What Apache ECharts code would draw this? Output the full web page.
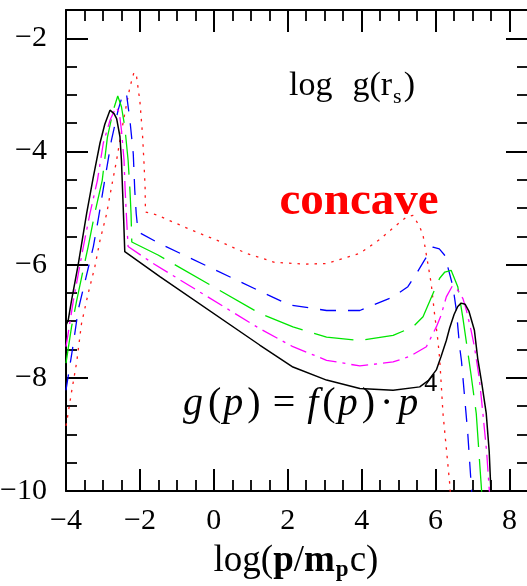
<!DOCTYPE html>
<html>
<head>
<meta charset="utf-8">
<script src="https://cdn.jsdelivr.net/npm/echarts@6/dist/echarts.min.js"></script>
<style>
  html, body { margin: 0; padding: 0; background: #fff; }
  #chart { width: 527px; height: 586px; }
</style>
</head>
<body>
<div id="chart"></div>
<script>
// curves: [log p, log g]
const blackLine = [[-4,-7.07],[-3.94,-6.98],[-3.85,-6.63],[-3.67,-6.0],[-3.62,-5.8],[-3.44,-5.09],[-3.26,-4.45],[-3.08,-3.85],[-2.95,-3.52],[-2.81,-3.27],[-2.7,-3.33],[-2.63,-3.42],[-2.54,-3.74],[-2.5,-4.15],[-2.47,-4.68],[-2.44,-5.2],[-2.41,-5.77],[-1.46,-6.21],[1.24,-7.42],[2.14,-7.81],[3.05,-8.04],[3.95,-8.19],[4.85,-8.22],[5.57,-8.16],[5.8,-8.05],[6.02,-7.86],[6.15,-7.62],[6.29,-7.34],[6.38,-7.12],[6.5,-6.88],[6.6,-6.74],[6.69,-6.68],[6.8,-6.7],[6.9,-6.82],[7.05,-7.16],[7.14,-7.66],[7.25,-8.1],[7.37,-8.63],[7.45,-9.3],[7.5,-10.05]];
const magentaLine = [[-4,-7.45],[-3.94,-7.21],[-3.8,-6.63],[-3.53,-5.68],[-3.35,-5.09],[-3.15,-4.51],[-2.99,-3.85],[-2.81,-3.45],[-2.65,-3.22],[-2.56,-3.3],[-2.5,-3.62],[-2.43,-4.15],[-2.4,-4.68],[-2.36,-5.2],[-2.32,-5.68],[-1.64,-5.98],[1.24,-7.13],[2.14,-7.45],[3.05,-7.69],[3.95,-7.79],[4.85,-7.72],[5.3,-7.62],[5.75,-7.45],[6.02,-7.1],[6.15,-6.89],[6.29,-6.57],[6.45,-6.38],[6.6,-6.45],[6.74,-6.6],[6.83,-6.8],[6.96,-7.16],[7.05,-7.45],[7.18,-8.0],[7.28,-8.63],[7.38,-9.3],[7.46,-10.05]];
const greenLine = [[-4,-7.74],[-3.85,-7.1],[-3.71,-6.63],[-3.4,-5.68],[-3.22,-5.09],[-3.02,-4.51],[-2.88,-3.75],[-2.72,-3.27],[-2.6,-3.02],[-2.5,-3.21],[-2.41,-3.56],[-2.32,-4.15],[-2.27,-4.68],[-2.24,-5.1],[-2.22,-5.6],[-1.51,-5.83],[1.24,-6.86],[2.14,-7.1],[3.05,-7.28],[3.95,-7.34],[4.85,-7.25],[5.39,-7.1],[5.66,-6.92],[5.93,-6.51],[6.11,-6.24],[6.25,-6.13],[6.42,-6.1],[6.6,-6.39],[6.74,-6.95],[6.85,-7.45],[6.96,-7.95],[7.1,-8.63],[7.23,-9.86],[7.25,-10.05]];
const blueLine = [[-4,-8.22],[-3.8,-7.39],[-3.67,-6.8],[-3.46,-6.23],[-3.26,-5.68],[-3.13,-5.21],[-2.95,-4.5],[-2.77,-3.8],[-2.59,-3.27],[-2.45,-2.96],[-2.36,-3.0],[-2.27,-3.45],[-2.18,-4.04],[-2.14,-4.68],[-2.1,-5.1],[-2.05,-5.42],[-1.46,-5.63],[2.03,-6.71],[3.05,-6.81],[3.95,-6.81],[4.85,-6.57],[5.25,-6.39],[5.48,-6.16],[5.7,-5.92],[5.93,-5.69],[6.1,-5.72],[6.24,-5.83],[6.33,-6.04],[6.47,-6.39],[6.56,-6.8],[6.65,-7.45],[6.7,-7.7],[6.87,-8.98],[6.96,-9.86],[6.98,-10.05]];
const redLine = [[-4,-8.85],[-3.98,-8.78],[-3.85,-8.25],[-3.71,-7.72],[-3.58,-7.04],[-3.4,-6.51],[-3.22,-6.04],[-3.08,-5.57],[-2.9,-5.1],[-2.77,-4.63],[-2.63,-4.15],[-2.54,-3.8],[-2.41,-3.33],[-2.27,-2.86],[-2.16,-2.6],[-2.09,-2.68],[-2.0,-3.12],[-1.93,-3.7],[-1.89,-4.2],[-1.86,-4.63],[-1.85,-5.07],[-1.55,-5.12],[-1.2,-5.22],[-0.6,-5.39],[0.16,-5.59],[0.88,-5.8],[1.65,-5.96],[2.46,-5.99],[3.05,-5.98],[3.95,-5.8],[4.5,-5.55],[4.85,-5.35],[5.21,-5.16],[5.39,-5.13],[5.57,-5.33],[5.66,-5.48],[5.79,-5.98],[5.88,-6.33],[5.97,-6.86],[6.06,-7.33],[6.11,-7.66],[6.2,-8.63],[6.38,-9.86],[6.4,-10.05]];

const xRange = [-4, 8.5];
const yRange = [-10, -1.5];

const serif = '"Liberation Serif", "Times New Roman", serif';

const chart = echarts.init(document.getElementById('chart'), null, { renderer: 'canvas' });

function minusLabel(v) {
    return v < 0 ? '\u2212' + Math.abs(v) : String(v);
}

const axisColor = '#000';

function makeAxis(kind, position, major) {
    const range = kind === 'x' ? xRange : yRange;
    const showLabel = major && (position === 'bottom' || position === 'left');
    // the right frame line falls just outside the picture
    const showLine = major && position !== 'right';
    return {
        type: 'value',
        position: position,
        min: range[0],
        max: range[1],
        interval: major ? 2 : 0.5,
        axisLine: { show: showLine, onZero: false, lineStyle: { color: axisColor, width: 2 } },
        axisTick: { inside: true, length: major ? 22 : 11, lineStyle: { color: axisColor, width: major ? 2 : 1.8 } },
        axisLabel: {
            show: showLabel,
            showMaxLabel: false,
            margin: kind === 'x' ? 15 : 19,
            color: '#000',
            fontFamily: serif,
            fontSize: 30,
            formatter: minusLabel
        },
        splitLine: { show: false }
    };
}

function curve(name, data, color, dash, width) {
    return {
        name: name,
        type: 'line',
        data: data,
        xAxisIndex: 0,
        yAxisIndex: 0,
        showSymbol: false,
        symbol: 'none',
        smooth: false,
        lineStyle: { color: color, width: width || 1.3, type: dash }
    };
}

const option = {
    backgroundColor: '#fff',
    animation: false,
    grid: { left: 66, top: 10, right: -1, bottom: 95, containLabel: false, outerBoundsMode: 'none' },
    xAxis: [
        makeAxis('x', 'bottom', true),
        makeAxis('x', 'bottom', false),
        makeAxis('x', 'top', true),
        makeAxis('x', 'top', false)
    ],
    yAxis: [
        makeAxis('y', 'left', true),
        makeAxis('y', 'left', false),
        makeAxis('y', 'right', true),
        makeAxis('y', 'right', false)
    ],
    series: [
        curve('dotted', redLine, '#ff1a1a', [2.5, 6]),
        curve('dashed', blueLine, '#0000ff', [16, 12]),
        curve('long dash', greenLine, '#00e600', [40, 12]),
        curve('dash dot', magentaLine, '#ff00ff', [17, 6, 3, 6]),
        curve('solid', blackLine, '#000000', 'solid', 1.5)
    ],
    graphic: [
        {
            type: 'text', x: 289, y: 86,
            style: {
                text: '{n|log}{g|g(r}{s|s}{n|)}',
                align: 'left', verticalAlign: 'middle', fill: '#000',
                rich: {
                    n: { font: '34px ' + serif, fill: '#000' },
                    g: { font: '34px ' + serif, fill: '#000', padding: [0, 0, 0, 20] },
                    s: { font: '22px ' + serif, fill: '#000', padding: [22, 2, 0, 1] }
                }
            }
        },
        {
            type: 'text', x: 359, y: 202,
            style: {
                text: 'concave',
                font: 'bold 47px ' + serif,
                fill: '#ff0000', align: 'center', verticalAlign: 'middle'
            }
        },
        {
            type: 'text', x: 183, y: 404,
            style: {
                text: '{gi|g}{r|(}{pi|p}{r|)}{eq|=}{fi|f}{r|(}{pi|p}{r|)}{dot|\u00b7}{pl|p}{sup|4}',
                align: 'left', verticalAlign: 'middle', fill: '#000',
                rich: {
                    gi: { font: 'italic 40px ' + serif, fill: '#000', padding: [0, 5, 0, 0] },
                    pi: { font: 'italic 40px ' + serif, fill: '#000', padding: [0, 4, 0, 2] },
                    pl: { font: 'italic 40px ' + serif, fill: '#000', padding: [0, 6, 0, 0] },
                    fi: { font: 'italic 40px ' + serif, fill: '#000', padding: [0, 4, 0, 0] },
                    r: { font: '40px ' + serif, fill: '#000' },
                    eq: { font: '40px ' + serif, fill: '#000', padding: [0, 12, 0, 12] },
                    dot: { font: '40px ' + serif, fill: '#000', padding: [0, 5, 0, 5] },
                    sup: { font: '26px ' + serif, fill: '#000', padding: [0, 0, 40, 0] }
                }
            }
        },
        {
            type: 'text', x: 296, y: 561,
            style: {
                text: '{n|log(}{b|p}{n|/}{b|m}{s|p}{n|c)}',
                align: 'center', verticalAlign: 'middle', fill: '#000',
                rich: {
                    n: { font: '37px ' + serif, fill: '#000' },
                    b: { font: 'bold 37px ' + serif, fill: '#000' },
                    s: { font: 'bold 23px ' + serif, fill: '#000', padding: [18, 1, 0, 1] }
                }
            }
        }
    ]
};

chart.setOption(option);

window.addEventListener('resize', () => {
    chart.resize();
});
</script>
</body>
</html>
